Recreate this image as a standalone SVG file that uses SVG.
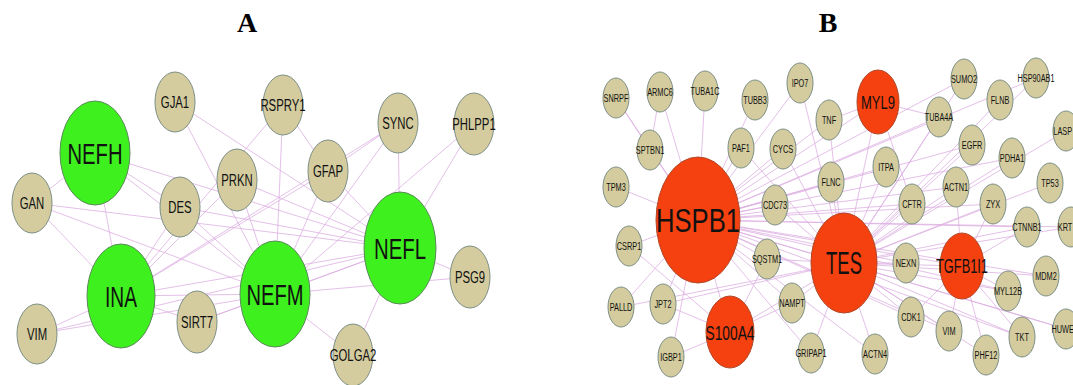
<svg xmlns="http://www.w3.org/2000/svg" width="1073" height="385" viewBox="0 0 1073 385">
<style>
.e line{stroke:#dcaee2;stroke-width:0.9;opacity:0.85}
.t{fill:#d4cc9e;stroke:#7d8f86;stroke-width:1}
.gr{fill:#3ef01e;stroke:#5a8a5a;stroke-width:1}
.rd{fill:#f5400f;stroke:#b0482a;stroke-width:1}
text{font-family:"Liberation Sans",Arial,sans-serif;fill:#111;text-anchor:middle}
.sa{font-size:17px;transform:scale(0.667,1)}
.sb{font-size:11px;transform:scale(0.667,1)}
.big{font-size:30px}
.ttl{font-family:"Liberation Serif","Times New Roman",serif;font-weight:bold;font-size:28px;fill:#000}
</style>
<rect width="1073" height="385" fill="#fff"/>
<text class="ttl" x="247" y="32">A</text>
<text class="ttl" x="828" y="32">B</text>
<g id="connectors" class="e">
<!-- Panel A -->
<line x1="95" y1="153" x2="121" y2="296"/>
<line x1="95" y1="153" x2="275" y2="294"/>
<line x1="95" y1="153" x2="400" y2="248"/>
<line x1="95" y1="153" x2="32" y2="203"/>
<line x1="95" y1="153" x2="180" y2="207"/>
<line x1="32" y1="203" x2="275" y2="294"/>
<line x1="32" y1="203" x2="400" y2="248"/>
<line x1="32" y1="203" x2="121" y2="296"/>
<line x1="175" y1="102" x2="400" y2="248"/>
<line x1="175" y1="102" x2="275" y2="294"/>
<line x1="283" y1="105" x2="275" y2="294"/>
<line x1="283" y1="105" x2="328" y2="171"/>
<line x1="283" y1="105" x2="121" y2="296"/>
<line x1="398" y1="123" x2="400" y2="248"/>
<line x1="398" y1="123" x2="275" y2="294"/>
<line x1="398" y1="123" x2="121" y2="296"/>
<line x1="398" y1="123" x2="328" y2="171"/>
<line x1="474" y1="124" x2="400" y2="248"/>
<line x1="474" y1="124" x2="275" y2="294"/>
<line x1="328" y1="171" x2="400" y2="248"/>
<line x1="328" y1="171" x2="275" y2="294"/>
<line x1="328" y1="171" x2="121" y2="296"/>
<line x1="237" y1="180" x2="400" y2="248"/>
<line x1="237" y1="180" x2="275" y2="294"/>
<line x1="237" y1="180" x2="121" y2="296"/>
<line x1="180" y1="207" x2="400" y2="248"/>
<line x1="180" y1="207" x2="275" y2="294"/>
<line x1="180" y1="207" x2="121" y2="296"/>
<line x1="37" y1="334" x2="121" y2="296"/>
<line x1="37" y1="334" x2="275" y2="294"/>
<line x1="37" y1="334" x2="400" y2="248"/>
<line x1="197" y1="322" x2="121" y2="296"/>
<line x1="197" y1="322" x2="275" y2="294"/>
<line x1="197" y1="322" x2="400" y2="248"/>
<line x1="470" y1="277" x2="400" y2="248"/>
<line x1="470" y1="277" x2="275" y2="294"/>
<line x1="353" y1="355" x2="400" y2="248"/>
<line x1="353" y1="355" x2="275" y2="294"/>
<line x1="121" y1="296" x2="275" y2="294"/>
<line x1="121" y1="296" x2="400" y2="248"/>
<line x1="275" y1="294" x2="400" y2="248"/>
<!-- Panel B : HSPB1 -->
<line x1="698" y1="220" x2="616" y2="98"/>
<line x1="698" y1="220" x2="660" y2="92"/>
<line x1="698" y1="220" x2="705" y2="91"/>
<line x1="698" y1="220" x2="755" y2="100"/>
<line x1="698" y1="220" x2="800" y2="83"/>
<line x1="698" y1="220" x2="829" y2="120"/>
<line x1="698" y1="220" x2="650" y2="150"/>
<line x1="698" y1="220" x2="741" y2="148"/>
<line x1="698" y1="220" x2="783" y2="149"/>
<line x1="698" y1="220" x2="616" y2="187"/>
<line x1="698" y1="220" x2="775" y2="205"/>
<line x1="698" y1="220" x2="831" y2="182"/>
<line x1="698" y1="220" x2="629" y2="246"/>
<line x1="698" y1="220" x2="767" y2="259"/>
<line x1="698" y1="220" x2="621" y2="307"/>
<line x1="698" y1="220" x2="663" y2="304"/>
<line x1="698" y1="220" x2="792" y2="303"/>
<line x1="698" y1="220" x2="671" y2="357"/>
<line x1="698" y1="220" x2="811" y2="353"/>
<line x1="698" y1="220" x2="844" y2="263"/>
<line x1="698" y1="220" x2="730" y2="332"/>
<line x1="698" y1="220" x2="878" y2="102"/>
<line x1="698" y1="220" x2="939" y2="117"/>
<line x1="698" y1="220" x2="972" y2="145"/>
<line x1="698" y1="220" x2="886" y2="167"/>
<line x1="698" y1="220" x2="912" y2="204"/>
<line x1="698" y1="220" x2="956" y2="187"/>
<line x1="698" y1="220" x2="906" y2="263"/>
<line x1="698" y1="220" x2="911" y2="317"/>
<line x1="698" y1="220" x2="949" y2="331"/>
<line x1="698" y1="220" x2="962" y2="266"/>
<line x1="698" y1="220" x2="993" y2="204"/>
<line x1="698" y1="220" x2="1012" y2="158"/>
<line x1="698" y1="220" x2="1027" y2="227"/>
<line x1="698" y1="220" x2="1071" y2="227"/>
<line x1="698" y1="220" x2="1046" y2="276"/>
<line x1="698" y1="220" x2="1008" y2="291"/>
<line x1="698" y1="220" x2="1022" y2="337"/>
<line x1="698" y1="220" x2="1066" y2="329"/>
<line x1="698" y1="220" x2="875" y2="354"/>
<line x1="698" y1="220" x2="1036" y2="78"/>
<line x1="698" y1="220" x2="964" y2="79"/>
<!-- Panel B : TES -->
<line x1="844" y1="263" x2="800" y2="83"/>
<line x1="844" y1="263" x2="829" y2="120"/>
<line x1="844" y1="263" x2="783" y2="149"/>
<line x1="844" y1="263" x2="741" y2="148"/>
<line x1="844" y1="263" x2="775" y2="205"/>
<line x1="844" y1="263" x2="831" y2="182"/>
<line x1="844" y1="263" x2="886" y2="167"/>
<line x1="844" y1="263" x2="878" y2="102"/>
<line x1="844" y1="263" x2="939" y2="117"/>
<line x1="844" y1="263" x2="964" y2="79"/>
<line x1="844" y1="263" x2="1000" y2="100"/>
<line x1="844" y1="263" x2="972" y2="145"/>
<line x1="844" y1="263" x2="1012" y2="158"/>
<line x1="844" y1="263" x2="956" y2="187"/>
<line x1="844" y1="263" x2="912" y2="204"/>
<line x1="844" y1="263" x2="993" y2="204"/>
<line x1="844" y1="263" x2="1050" y2="183"/>
<line x1="844" y1="263" x2="1066" y2="131"/>
<line x1="844" y1="263" x2="1027" y2="227"/>
<line x1="844" y1="263" x2="1071" y2="227"/>
<line x1="844" y1="263" x2="906" y2="263"/>
<line x1="844" y1="263" x2="962" y2="266"/>
<line x1="844" y1="263" x2="1046" y2="276"/>
<line x1="844" y1="263" x2="1008" y2="291"/>
<line x1="844" y1="263" x2="911" y2="317"/>
<line x1="844" y1="263" x2="949" y2="331"/>
<line x1="844" y1="263" x2="1022" y2="337"/>
<line x1="844" y1="263" x2="1066" y2="329"/>
<line x1="844" y1="263" x2="986" y2="355"/>
<line x1="844" y1="263" x2="875" y2="354"/>
<line x1="844" y1="263" x2="811" y2="353"/>
<line x1="844" y1="263" x2="792" y2="303"/>
<line x1="844" y1="263" x2="767" y2="259"/>
<line x1="844" y1="263" x2="730" y2="332"/>
<line x1="844" y1="263" x2="663" y2="304"/>
<line x1="844" y1="263" x2="621" y2="307"/>
<line x1="844" y1="263" x2="1036" y2="78"/>
<!-- Panel B : others -->
<line x1="730" y1="332" x2="671" y2="357"/>
<line x1="730" y1="332" x2="663" y2="304"/>
<line x1="730" y1="332" x2="792" y2="303"/>
<line x1="730" y1="332" x2="767" y2="259"/>
<line x1="730" y1="332" x2="629" y2="246"/>
<line x1="962" y1="266" x2="956" y2="187"/>
<line x1="962" y1="266" x2="993" y2="204"/>
<line x1="962" y1="266" x2="1027" y2="227"/>
<line x1="962" y1="266" x2="1022" y2="337"/>
<line x1="962" y1="266" x2="986" y2="355"/>
<line x1="962" y1="266" x2="949" y2="331"/>
<line x1="962" y1="266" x2="911" y2="317"/>
<line x1="962" y1="266" x2="1008" y2="291"/>
<line x1="878" y1="102" x2="939" y2="117"/>
<line x1="878" y1="102" x2="829" y2="120"/>
<line x1="878" y1="102" x2="912" y2="204"/>
<line x1="660" y1="92" x2="650" y2="150"/>
<line x1="616" y1="98" x2="650" y2="150"/>
</g>
<!-- Panel A nodes -->
<g id="GJA1" transform="translate(175,102)"><ellipse class="t" rx="20" ry="30"/><text class="sa" y="6">GJA1</text></g>
<g id="RSPRY1" transform="translate(283,105)"><ellipse class="t" rx="20" ry="30"/><text class="sa" y="6">RSPRY1</text></g>
<g id="SYNC" transform="translate(398,123)"><ellipse class="t" rx="20" ry="30"/><text class="sa" y="6">SYNC</text></g>
<g id="PHLPP1" transform="translate(474,124)"><ellipse class="t" rx="20" ry="31"/><text class="sa" y="6">PHLPP1</text></g>
<g id="GFAP" transform="translate(328,171)"><ellipse class="t" rx="20" ry="31"/><text class="sa" y="6">GFAP</text></g>
<g id="PRKN" transform="translate(237,180)"><ellipse class="t" rx="20" ry="31"/><text class="sa" y="6">PRKN</text></g>
<g id="DES" transform="translate(180,207)"><ellipse class="t" rx="20" ry="30"/><text class="sa" y="6">DES</text></g>
<g id="GAN" transform="translate(32,203)"><ellipse class="t" rx="20" ry="30"/><text class="sa" y="6">GAN</text></g>
<g id="VIM_A" transform="translate(37,334)"><ellipse class="t" rx="20" ry="30"/><text class="sa" y="6">VIM</text></g>
<g id="SIRT7" transform="translate(197,322)"><ellipse class="t" rx="20" ry="31"/><text class="sa" y="6">SIRT7</text></g>
<g id="PSG9" transform="translate(470,277)"><ellipse class="t" rx="20" ry="31"/><text class="sa" y="6">PSG9</text></g>
<g id="GOLGA2" transform="translate(353,355)"><ellipse class="t" rx="20" ry="31"/><text class="sa" y="6">GOLGA2</text></g>
<g id="NEFH" transform="translate(95,153)"><ellipse class="gr" rx="35" ry="52"/><text class="big" y="11" textLength="55" lengthAdjust="spacingAndGlyphs">NEFH</text></g>
<g id="INA" transform="translate(121,296)"><ellipse class="gr" rx="34" ry="52"/><text class="big" y="11" textLength="32" lengthAdjust="spacingAndGlyphs">INA</text></g>
<g id="NEFM" transform="translate(275,294)"><ellipse class="gr" rx="35" ry="53"/><text class="big" y="11" textLength="57" lengthAdjust="spacingAndGlyphs">NEFM</text></g>
<g id="NEFL" transform="translate(400,248)"><ellipse class="gr" rx="36" ry="56"/><text class="big" y="11" textLength="52" lengthAdjust="spacingAndGlyphs">NEFL</text></g>
<!-- Panel B nodes -->
<g id="SNRPF" transform="translate(616,98)"><ellipse class="t" rx="13" ry="20"/><text class="sb" y="4">SNRPF</text></g>
<g id="ARMC6" transform="translate(660,92)"><ellipse class="t" rx="13" ry="20"/><text class="sb" y="4">ARMC6</text></g>
<g id="TUBA1C" transform="translate(705,91)"><ellipse class="t" rx="13" ry="20"/><text class="sb" y="4">TUBA1C</text></g>
<g id="TUBB3" transform="translate(755,100)"><ellipse class="t" rx="13" ry="20"/><text class="sb" y="4">TUBB3</text></g>
<g id="IPO7" transform="translate(800,83)"><ellipse class="t" rx="13" ry="20"/><text class="sb" y="4">IPO7</text></g>
<g id="TNF" transform="translate(829,120)"><ellipse class="t" rx="13" ry="20"/><text class="sb" y="4">TNF</text></g>
<g id="SPTBN1" transform="translate(650,150)"><ellipse class="t" rx="13" ry="20"/><text class="sb" y="4">SPTBN1</text></g>
<g id="PAF1" transform="translate(741,148)"><ellipse class="t" rx="13" ry="20"/><text class="sb" y="4">PAF1</text></g>
<g id="CYCS" transform="translate(783,149)"><ellipse class="t" rx="13" ry="20"/><text class="sb" y="4">CYCS</text></g>
<g id="TPM3" transform="translate(616,187)"><ellipse class="t" rx="13" ry="20"/><text class="sb" y="4">TPM3</text></g>
<g id="CDC73" transform="translate(775,205)"><ellipse class="t" rx="13" ry="20"/><text class="sb" y="4">CDC73</text></g>
<g id="FLNC" transform="translate(831,182)"><ellipse class="t" rx="13" ry="20"/><text class="sb" y="4">FLNC</text></g>
<g id="SUMO2" transform="translate(964,79)"><ellipse class="t" rx="13" ry="20"/><text class="sb" y="4">SUMO2</text></g>
<g id="HSP90AB1" transform="translate(1036,78)"><ellipse class="t" rx="13" ry="20"/><text class="sb" y="4">HSP90AB1</text></g>
<g id="FLNB" transform="translate(1000,100)"><ellipse class="t" rx="13" ry="20"/><text class="sb" y="4">FLNB</text></g>
<g id="TUBA4A" transform="translate(939,117)"><ellipse class="t" rx="13" ry="20"/><text class="sb" y="4">TUBA4A</text></g>
<g id="LASP" transform="translate(1066,131)"><ellipse class="t" rx="13" ry="20"/><text class="sb" x="-5" y="4">LASP</text></g>
<g id="EGFR" transform="translate(972,145)"><ellipse class="t" rx="13" ry="20"/><text class="sb" y="4">EGFR</text></g>
<g id="PDHA1" transform="translate(1012,158)"><ellipse class="t" rx="13" ry="20"/><text class="sb" y="4">PDHA1</text></g>
<g id="ITPA" transform="translate(886,167)"><ellipse class="t" rx="13" ry="20"/><text class="sb" y="4">ITPA</text></g>
<g id="ACTN1" transform="translate(956,187)"><ellipse class="t" rx="13" ry="20"/><text class="sb" y="4">ACTN1</text></g>
<g id="TP53" transform="translate(1050,183)"><ellipse class="t" rx="13" ry="20"/><text class="sb" y="4">TP53</text></g>
<g id="CFTR" transform="translate(912,204)"><ellipse class="t" rx="13" ry="20"/><text class="sb" y="4">CFTR</text></g>
<g id="ZYX" transform="translate(993,204)"><ellipse class="t" rx="13" ry="20"/><text class="sb" y="4">ZYX</text></g>
<g id="CTNNB1" transform="translate(1027,227)"><ellipse class="t" rx="13" ry="20"/><text class="sb" y="4">CTNNB1</text></g>
<g id="KRT" transform="translate(1071,227)"><ellipse class="t" rx="13" ry="20"/><text class="sb" x="-9" y="4">KRT</text></g>
<g id="CSRP1" transform="translate(629,246)"><ellipse class="t" rx="13" ry="20"/><text class="sb" y="4">CSRP1</text></g>
<g id="SQSTM1" transform="translate(767,259)"><ellipse class="t" rx="13" ry="20"/><text class="sb" y="4">SQSTM1</text></g>
<g id="PALLD" transform="translate(621,307)"><ellipse class="t" rx="13" ry="20"/><text class="sb" y="4">PALLD</text></g>
<g id="JPT2" transform="translate(663,304)"><ellipse class="t" rx="13" ry="20"/><text class="sb" y="4">JPT2</text></g>
<g id="NAMPT" transform="translate(792,303)"><ellipse class="t" rx="13" ry="20"/><text class="sb" y="4">NAMPT</text></g>
<g id="IGBP1" transform="translate(671,357)"><ellipse class="t" rx="13" ry="20"/><text class="sb" y="4">IGBP1</text></g>
<g id="GRIPAP1" transform="translate(811,353)"><ellipse class="t" rx="13" ry="20"/><text class="sb" y="4">GRIPAP1</text></g>
<g id="NEXN" transform="translate(906,263)"><ellipse class="t" rx="13" ry="20"/><text class="sb" y="4">NEXN</text></g>
<g id="MDM2" transform="translate(1046,276)"><ellipse class="t" rx="13" ry="20"/><text class="sb" y="4">MDM2</text></g>
<g id="MYL12B" transform="translate(1008,291)"><ellipse class="t" rx="13" ry="20"/><text class="sb" y="4">MYL12B</text></g>
<g id="CDK1" transform="translate(911,317)"><ellipse class="t" rx="13" ry="20"/><text class="sb" y="4">CDK1</text></g>
<g id="VIM_B" transform="translate(949,331)"><ellipse class="t" rx="13" ry="20"/><text class="sb" y="4">VIM</text></g>
<g id="TKT" transform="translate(1022,337)"><ellipse class="t" rx="13" ry="20"/><text class="sb" y="4">TKT</text></g>
<g id="HUWE" transform="translate(1066,329)"><ellipse class="t" rx="13" ry="20"/><text class="sb" x="-5" y="4">HUWE</text></g>
<g id="PHF12" transform="translate(986,355)"><ellipse class="t" rx="13" ry="20"/><text class="sb" y="4">PHF12</text></g>
<g id="ACTN4" transform="translate(875,354)"><ellipse class="t" rx="13" ry="20"/><text class="sb" y="4">ACTN4</text></g>
<g id="HSPB1" transform="translate(698,220)"><ellipse class="rd" rx="42" ry="63"/><text style="font-size:33px" y="12" textLength="84" lengthAdjust="spacingAndGlyphs">HSPB1</text></g>
<g id="TES" transform="translate(844,263)"><ellipse class="rd" rx="33" ry="50"/><text style="font-size:32px" y="11" textLength="36" lengthAdjust="spacingAndGlyphs">TES</text></g>
<g id="MYL9" transform="translate(878,102)"><ellipse class="rd" rx="21" ry="32"/><text style="font-size:18px" y="7" textLength="34" lengthAdjust="spacingAndGlyphs">MYL9</text></g>
<g id="S100A4" transform="translate(730,332)"><ellipse class="rd" rx="24" ry="36"/><text style="font-size:21px" y="8" textLength="49" lengthAdjust="spacingAndGlyphs">S100A4</text></g>
<g id="TGFB1I1" transform="translate(962,266)"><ellipse class="rd" rx="22" ry="33"/><text style="font-size:20px" y="7" textLength="52" lengthAdjust="spacingAndGlyphs">TGFB1I1</text></g>
</svg>
